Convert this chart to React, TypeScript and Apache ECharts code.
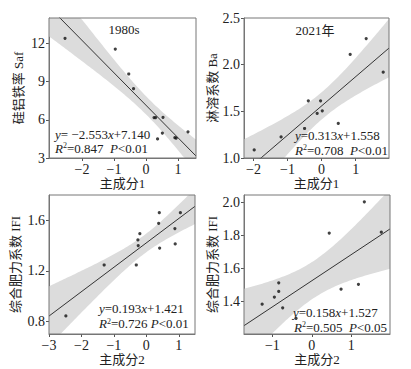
import React, { useEffect, useRef } from "react";
import * as echarts from "echarts";

// ---- data ----
const p1X = [-2.53, -0.96, -0.54, -0.39, 0.25, 0.3, 0.53, 0.51, 0.36, 0.9, 0.94, 1.31];
const p1Y = [12.4, 11.56, 9.6, 8.45, 6.18, 6.18, 6.2, 4.96, 4.5, 4.6, 4.56, 5.06];
const p2X = [-1.98, -1.19, -0.5, -0.39, -0.13, -0.03, 0.02, 0.49, 0.84, 1.31, 1.81];
const p2Y = [1.086, 1.226, 1.316, 1.613, 1.477, 1.613, 1.505, 1.37, 2.11, 2.28, 1.92];
const p3X = [-2.48, -1.3, -0.31, -0.26, -0.25, -0.2, 0.4, 0.38, 0.41, 0.88, 0.89, 1.05];
const p3Y = [0.843, 1.246, 1.246, 1.444, 1.4, 1.494, 1.66, 1.576, 1.38, 1.534, 1.413, 1.66];
const p4X = [-1.26, -0.95, -0.84, -0.84, -0.74, -0.4, 0.44, 0.74, 1.18, 1.33, 1.76];
const p4Y = [1.385, 1.428, 1.514, 1.462, 1.363, 1.3, 1.815, 1.476, 1.505, 2.004, 1.82];

const slopes = [-2.553, 0.313, 0.193, 0.158];
const intercepts = [7.14, 1.558, 1.421, 1.527];
const eqTexts = [
  "{i|y}= −2.553{i|x}+7.140",
  "{i|y}=0.313{i|x}+1.558",
  "{i|y}=0.193{i|x}+1.421",
  "{i|y}=0.158{i|x}+1.527",
];
const r2Texts = [
  "{i|R}{s|2}=0.847  {i|P}<0.01",
  "{i|R}{s|2}=0.708  {i|P}<0.01",
  "{i|R}{s|2}=0.726 {i|P}<0.01",
  "{i|R}{s|2}=0.505  {i|P}<0.05",
];
const titles = ["1980s", "2021年"];
const xNames = ["主成分1", "主成分1", "主成分2", "主成分2"];
const yNames = ["硅铝铁率 Saf", "淋溶系数 Ba", "综合肥力系数 IFI", "综合肥力系数 IFI"];

const p1XTicks = [-2, -1, 0, 1];
const p1YTicks = [3, 6, 9, 12];
const p2XTicks = [-2, -1, 0, 1];
const p2YTicks = [1.0, 1.5, 2.0, 2.5];
const p3XTicks = [-3, -2, -1, 0, 1];
const p3YTicks = [0.8, 1.2, 1.6];
const p4XTicks = [-1, 0, 1, 2];
const p4YTicks = [1.4, 1.6, 1.8, 2.0];

const xRanges = [[-3.03, 1.56], [-2.28, 1.98], [-3.0, 1.5], [-1.72, 1.98]];
const yRanges = [[3, 14], [1.0, 2.5], [0.7, 1.8], [1.205, 2.045]];

const SERIF = "'Liberation Serif', 'Times New Roman', 'Noto Sans CJK SC', serif";
const TXT = "#222";

const tTable: Record<number, number> = { 8: 2.306, 9: 2.262, 10: 2.228, 11: 2.201, 12: 2.179 };

function bandFor(xs: number[], ys: number[], b: number, a: number, xr: number[], yr: number[]) {
  const n = xs.length;
  const xbar = xs.reduce((s, v) => s + v, 0) / n;
  const sxx = xs.reduce((s, v) => s + (v - xbar) ** 2, 0);
  const sse = xs.reduce((s, v, i) => s + (ys[i] - (a + b * v)) ** 2, 0);
  const se = Math.sqrt(sse / (n - 2));
  const t = tTable[n - 2] || 2.2;
  const upper: number[][] = [];
  const lower: number[][] = [];
  const steps = 80;
  const clamp = (v: number) => Math.max(yr[0], Math.min(yr[1], v));
  for (let k = 0; k <= steps; k++) {
    const x = xr[0] + ((xr[1] - xr[0]) * k) / steps;
    const yh = a + b * x;
    const h = t * se * Math.sqrt(1 / n + (x - xbar) ** 2 / sxx);
    upper.push([x, clamp(yh + h)]);
    lower.push([x, clamp(yh - h)]);
  }
  return { upper, lower };
}

const fmt = (v: number, d: number) => {
  const s = Math.abs(v).toFixed(d);
  return v < 0 ? "−" + s : s;
};

export default function App() {
  const ref = useRef<HTMLDivElement>(null);
  useEffect(() => {
    if (!ref.current) return;
    const chart = echarts.init(ref.current, undefined, { renderer: "svg" });
    const xsAll = [p1X, p2X, p3X, p4X];
    const ysAll = [p1Y, p2Y, p3Y, p4Y];
    const xTicks = [p1XTicks, p2XTicks, p3XTicks, p4XTicks];
    const yTicks = [p1YTicks, p2YTicks, p3YTicks, p4YTicks];
    const yDec = [0, 1, 1, 1];
    const grids = [
      { left: 49, top: 18, width: 147, height: 140 },
      { left: 244, top: 18, width: 145, height: 140 },
      { left: 49, top: 195, width: 146, height: 139 },
      { left: 244, top: 195, width: 146, height: 139 },
    ];
    const yNameGap = [24, 22, 27, 23];

    const series: any[] = [];
    for (let i = 0; i < 4; i++) {
      const { upper, lower } = bandFor(xsAll[i], ysAll[i], slopes[i], intercepts[i], xRanges[i], yRanges[i]);
      series.push({
        type: "custom",
        xAxisIndex: i,
        yAxisIndex: i,
        z: 1,
        silent: true,
        data: [[xRanges[i][0], yRanges[i][0]]],
        renderItem: (params: any, api: any) => {
          const pts = [
            ...upper.map((p) => api.coord(p)),
            ...lower.slice().reverse().map((p) => api.coord(p)),
          ];
          return { type: "polygon", shape: { points: pts }, style: { fill: "#dcdcdc" } };
        },
      });
      series.push({
        type: "line",
        xAxisIndex: i,
        yAxisIndex: i,
        z: 2,
        symbol: "none",
        clip: true,
        lineStyle: { color: "#333", width: 1 },
        data: xRanges[i].map((x) => [x, intercepts[i] + slopes[i] * x]),
      });
      series.push({
        type: "scatter",
        xAxisIndex: i,
        yAxisIndex: i,
        z: 3,
        symbolSize: 3.2,
        itemStyle: { color: "#111" },
        data: xsAll[i].map((x, k) => [x, ysAll[i][k]]),
      });
    }

    const graphic: any[] = [];
    const titlePos = [[124, 29], [315, 30]];
    titles.forEach((t, i) => {
      graphic.push({
        type: "text",
        x: titlePos[i][0],
        y: titlePos[i][1],
        z: 10,
        style: {
          text: t,
          fontFamily: SERIF,
          fontSize: 13,
          fill: TXT,
          align: "center",
          verticalAlign: "middle",
        },
      });
    });
    const eqPos = [[55, 134], [295, 135], [99, 308.5], [293, 312]];
    const rPos = [[55, 148], [295, 150], [99, 323.5], [294, 327]];
    const rich = {
      i: { fontStyle: "italic", fontFamily: SERIF, fontSize: 13, fill: TXT },
      s: { fontFamily: SERIF, fontSize: 8, fill: TXT, verticalAlign: "top", lineHeight: 9 },
    };
    for (let i = 0; i < 4; i++) {
      graphic.push({
        type: "text",
        x: eqPos[i][0],
        y: eqPos[i][1],
        z: 10,
        style: {
          text: eqTexts[i],
          rich,
          fontFamily: SERIF,
          fontSize: 13,
          fill: TXT,
          align: "left",
          verticalAlign: "middle",
        },
      });
      graphic.push({
        type: "text",
        x: rPos[i][0],
        y: rPos[i][1],
        z: 10,
        style: {
          text: r2Texts[i],
          rich,
          fontFamily: SERIF,
          fontSize: 13,
          fill: TXT,
          align: "left",
          verticalAlign: "middle",
        },
      });
    }

    chart.setOption({
      animation: false,
      backgroundColor: "#fff",
      grid: grids.map((g) => ({ ...g, show: true, borderColor: "#777", borderWidth: 1, backgroundColor: "transparent", z: 5 })),
      xAxis: grids.map((_, i) => ({
        type: "value",
        gridIndex: i,
        min: xRanges[i][0],
        max: xRanges[i][1],
        name: xNames[i],
        nameLocation: "middle",
        nameGap: 15,
        nameTextStyle: { fontFamily: SERIF, fontSize: 13, color: TXT },
        splitLine: { show: false },
        axisLine: { show: true, onZero: false, lineStyle: { color: "#777", width: 1 } },
        axisTick: { show: true, inside: false, length: 3, customValues: xTicks[i], lineStyle: { color: "#555" } },
        axisLabel: {
          customValues: xTicks[i],
          margin: 4,
          fontFamily: SERIF,
          fontSize: 14,
          color: TXT,
          formatter: (v: number) => fmt(v, 0),
        },
      })),
      yAxis: grids.map((_, i) => ({
        type: "value",
        gridIndex: i,
        min: yRanges[i][0],
        max: yRanges[i][1],
        name: yNames[i],
        nameLocation: "middle",
        nameGap: yNameGap[i],
        nameRotate: 90,
        nameTextStyle: { fontFamily: SERIF, fontSize: 13, color: TXT },
        splitLine: { show: false },
        axisLine: { show: true, onZero: false, lineStyle: { color: "#777", width: 1 } },
        axisTick: { show: true, inside: false, length: 3, customValues: yTicks[i], lineStyle: { color: "#555" } },
        axisLabel: {
          customValues: yTicks[i],
          margin: 4,
          fontFamily: SERIF,
          fontSize: 14,
          color: TXT,
          formatter: (v: number) => fmt(v, yDec[i]),
        },
      })),
      series,
      graphic,
    });
    return () => chart.dispose();
  }, []);
  return (
    <div
      ref={ref}
      style={{ position: "absolute", left: 0, top: 0, width: 411, height: 369, background: "#fff" }}
    />
  );
}
